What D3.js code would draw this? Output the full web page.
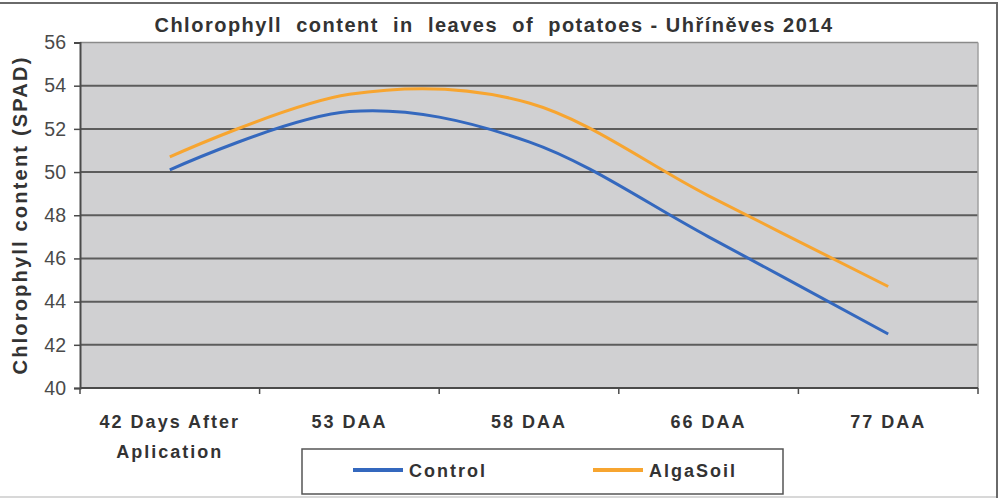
<!DOCTYPE html>
<html>
<head>
<meta charset="utf-8">
<script src="https://cdn.jsdelivr.net/npm/d3@7/dist/d3.min.js"></script>
<style>
  html, body { margin: 0; padding: 0; background: #fff; }
  svg { display: block; font-family: "Liberation Sans", Arial, sans-serif; }
</style>
</head>
<body>
<svg id="chart" width="1005" height="498"></svg>
<script>
const categories = ["42 Days After|Aplication", "53 DAA", "58 DAA", "66 DAA", "77 DAA"];
const controlValues = [50.1, 52.8, 51.4, 47.0, 42.5];
const algaSoilValues = [50.7, 53.6, 53.2, 48.9, 44.7];
const yTicks = [40, 42, 44, 46, 48, 50, 52, 54, 56];
const seriesNames = ["Control", "AlgaSoil"];
const seriesColors = ["#3468be", "#f7a530"];
const titleText = "Chlorophyll  content  in  leaves  of  potatoes - Uhříněves 2014";
const yTitleText = "Chlorophyll content (SPAD)";

(function () {
const svg = d3.select("#chart");
const pL = 80, pR = 978, pT = 42.5, pB = 388;

// outer frame
svg.append("rect").attr("x", -5).attr("y", 3).attr("width", 1002).attr("height", 494)
  .attr("fill", "#fff").attr("stroke", "#6a6a6a").attr("stroke-width", 2);
svg.append("line").attr("x1", 0).attr("x2", 996).attr("y1", 497).attr("y2", 497)
  .attr("stroke", "#d8d8d8").attr("stroke-width", 2);

const x = d3.scaleBand().domain(categories).range([pL, pR]);
const y = d3.scaleLinear().domain([40, 56]).range([pB, pT]);

// plot background
svg.append("rect").attr("x", pL).attr("y", pT).attr("width", pR - pL).attr("height", pB - pT)
  .attr("fill", "#d0d0d2");

// gridlines
svg.append("g").selectAll("line").data(yTicks.filter(t => t > 40 && t < 56)).join("line")
  .attr("x1", pL).attr("x2", pR).attr("y1", d => y(d)).attr("y2", d => y(d))
  .attr("stroke", "#5c5c5c").attr("stroke-width", 2);
// plot top & right border
svg.append("line").attr("x1", pL).attr("x2", pR).attr("y1", y(56)).attr("y2", y(56))
  .attr("stroke", "#8a8a8a").attr("stroke-width", 1.5);
svg.append("line").attr("x1", pR).attr("x2", pR).attr("y1", pT).attr("y2", pB)
  .attr("stroke", "#a0a0a0").attr("stroke-width", 1.5);

// y axis
const yAxis = svg.append("g").attr("transform", `translate(${pL},0)`)
  .call(d3.axisLeft(y).tickValues(yTicks).tickSize(6).tickPadding(8));
yAxis.select(".domain").attr("stroke", "#4a4a4a").attr("stroke-width", 2);
yAxis.selectAll(".tick line").attr("stroke", "#4a4a4a").attr("stroke-width", 1.5);
yAxis.selectAll(".tick text").attr("fill", "#4a4a4a").attr("font-size", 19.5)
  .attr("font-family", "'Liberation Sans', Arial, sans-serif");

// x axis
const xAxis = svg.append("g").attr("transform", `translate(0,${pB})`);
xAxis.append("line").attr("x1", pL).attr("x2", pR).attr("y1", 0).attr("y2", 0)
  .attr("stroke", "#4a4a4a").attr("stroke-width", 2);
const tickPos = categories.map(c => x(c)).concat([pR]);
xAxis.selectAll("line.tk").data(tickPos).join("line").attr("class", "tk")
  .attr("x1", d => d).attr("x2", d => d).attr("y1", 0).attr("y2", 6)
  .attr("stroke", "#4a4a4a").attr("stroke-width", 1.5);
const xl = xAxis.selectAll("text.xl").data(categories).join("text").attr("class", "xl")
  .attr("x", d => x(d) + x.bandwidth() / 2).attr("y", 40)
  .attr("text-anchor", "middle").attr("font-size", 18).attr("font-weight", "bold")
  .attr("letter-spacing", 2).attr("fill", "#333");
xl.each(function(d) {
  const parts = d.split("|");
  const t = d3.select(this);
  parts.forEach((p, i) => {
    t.append("tspan").attr("x", x(d) + x.bandwidth() / 2).attr("dy", i === 0 ? 0 : 30).text(p);
  });
});

// lines
const xc = c => x(c) + x.bandwidth() / 2;
const line = d3.line().x(d => xc(d.c)).y(d => y(d.v)).curve(d3.curveCardinal.tension(0));
[controlValues, algaSoilValues].forEach((vals, i) => {
  svg.append("path").datum(categories.map((c, j) => ({ c, v: vals[j] })))
    .attr("d", line).attr("fill", "none").attr("stroke", seriesColors[i])
    .attr("stroke-width", 3).attr("stroke-linejoin", "round");
});

// title
svg.append("text").attr("x", 494).attr("y", 32).attr("text-anchor", "middle")
  .attr("font-size", 20).attr("font-weight", "bold").attr("fill", "#333")
  .attr("letter-spacing", 1.5).style("white-space", "pre").text(titleText);

// y title
svg.append("text").attr("transform", "translate(27,215) rotate(-90)")
  .attr("text-anchor", "middle").attr("font-size", 20).attr("font-weight", "bold")
  .attr("letter-spacing", 2.2).attr("fill", "#333").text(yTitleText);

// legend
const lg = svg.append("g");
lg.append("rect").attr("x", 302).attr("y", 449).attr("width", 481).attr("height", 45)
  .attr("fill", "#fff").attr("stroke", "#555").attr("stroke-width", 1.5);
const legendX = [353, 593];
seriesNames.forEach((n, i) => {
  lg.append("line").attr("x1", legendX[i]).attr("x2", legendX[i] + 50).attr("y1", 470).attr("y2", 470)
    .attr("stroke", seriesColors[i]).attr("stroke-width", 4);
  lg.append("text").attr("x", legendX[i] + 56).attr("y", 477).attr("font-size", 18)
    .attr("font-weight", "bold").attr("letter-spacing", 2).attr("fill", "#333").text(n);
});
})();
</script>
</body>
</html>
